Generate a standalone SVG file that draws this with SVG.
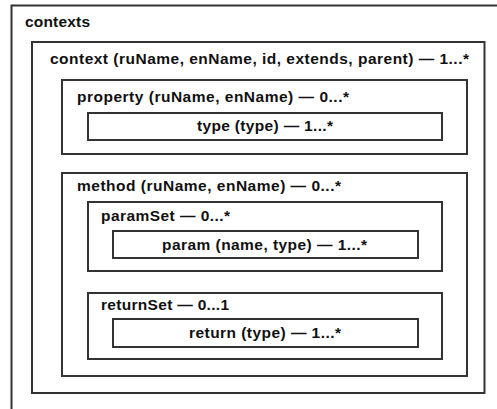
<svg xmlns="http://www.w3.org/2000/svg" width="497" height="409" viewBox="0 0 497 409">
<style>
.box{fill:none;stroke:#333;stroke-width:2}
.t{font-family:"Liberation Sans",Arial,sans-serif;font-weight:bold;font-size:15.5px;fill:#111}
</style>
<rect width="497" height="409" fill="#fff"/>
<g id="contexts">
<rect class="box" x="11.5" y="5.5" width="500" height="420"/>
<text class="t" x="25" y="27" textLength="65" lengthAdjust="spacing">contexts</text>
</g>
<g id="context">
<rect class="box" x="32" y="42" width="452.5" height="351"/>
<text class="t" x="50" y="64" textLength="419" lengthAdjust="spacing">context (ruName, enName, id, extends, parent) — 1...*</text>
</g>
<g id="property">
<rect class="box" x="62" y="80" width="405" height="74"/>
<text class="t" x="77" y="102" textLength="272" lengthAdjust="spacing">property (ruName, enName) — 0...*</text>
</g>
<g id="type">
<rect class="box" x="88" y="113" width="354" height="27"/>
<text class="t" x="197" y="131" textLength="136" lengthAdjust="spacing">type (type) — 1...*</text>
</g>
<g id="method">
<rect class="box" x="62" y="173" width="405" height="203"/>
<text class="t" x="77" y="191" textLength="264" lengthAdjust="spacing">method (ruName, enName) — 0...*</text>
</g>
<g id="paramSet">
<rect class="box" x="88" y="202" width="354" height="69"/>
<text class="t" x="101" y="221" textLength="129" lengthAdjust="spacing">paramSet — 0...*</text>
</g>
<g id="param">
<rect class="box" x="113" y="231" width="305" height="27"/>
<text class="t" x="162" y="250" textLength="205" lengthAdjust="spacing">param (name, type) — 1...*</text>
</g>
<g id="returnSet">
<rect class="box" x="88" y="293" width="354" height="66"/>
<text class="t" x="101" y="310" textLength="128" lengthAdjust="spacing">returnSet — 0...1</text>
</g>
<g id="return">
<rect class="box" x="113" y="319" width="305" height="28"/>
<text class="t" x="189" y="338" textLength="152" lengthAdjust="spacing">return (type) — 1...*</text>
</g>
<g id="connectors"/>
</svg>
